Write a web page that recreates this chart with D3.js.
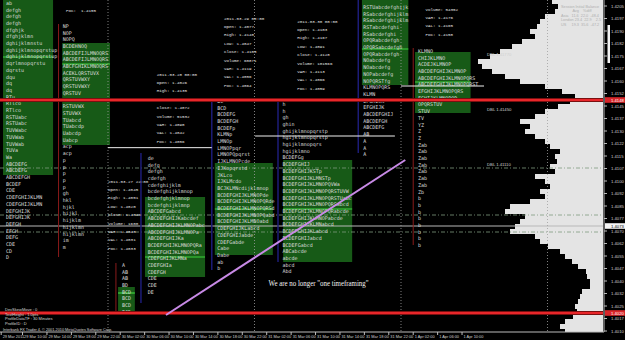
<!DOCTYPE html>
<html>
<head>
<meta charset="utf-8">
<script src="https://cdn.jsdelivr.net/npm/d3@7"></script>
<style>
  body { margin: 0; background: #000; }
  svg { display: block; }
</style>
</head>
<body>
<svg id="chart" width="625" height="340"></svg>
<script>
// ---- data (time = hours after 2011-03-30 00:00, price = EURUSD) ----
const priceTicks = d3.range(27).map(i => 1.4010 + i * 0.00075);
const timeTicks = d3.range(-14, 59, 4);
const firstBarHour = -17.5;
const daySeparators = [0, 24, 48, 72];

// volume profile, one value per 3 pips starting at 1.4010
const profileStart = 1.4010, profileStep = 0.0003;
const profileVolumes = [38,43,38,30,26,28,25,23,21,13, 13,16,17,25,31,38,43,55,63,68,
  93,88,83,78,98,93,73,58,63,53, 58,68,48,53,46,48,43,53,58,68,
  78,73,83,68,58,45,33,28,41,58, 83,98,111,121,125,113,103,91,81,68,
  73,66,63,58,48,45,51];

const valueAreas = [
  {t0: -17.2, t1: -9.0, hi: 1.42086, lo: 1.41036, poc: 1.41744},
  {t0: -7.5, t1: 0.33, hi: 1.41828, lo: 1.41216, poc: 1.41702},
  {t0: 6.06, t1: 15.9, hi: 1.40904, lo: 1.40424, poc: 1.40544},
  {t0: 17.5, t1: 27.0, hi: 1.41108, lo: 1.40556, poc: 1.40832},
  {t0: 28.7, t1: 40.0, hi: 1.41126, lo: 1.40514, poc: 1.40832},
  {t0: 41.6, t1: 49.2, hi: 1.42086, lo: 1.41576, poc: 1.41792},
  {t0: 50.3, t1: 59.4, hi: 1.41774, lo: 1.41408, poc: 1.41594},
  {t0: 1.65, t1: 4.4, hi: 1.40364, lo: 1.40208, poc: 1.40328}
];

const tpoStep = 0.000402;
const colA = ["ab","defgh","defgh","defgh","dfghjk","dfghjklmn","dghijklmnstu","dghijklmnopqrstup",
  "dghijklmnopqrstup","dqrlmnopqrstu","dqrstu","dqu","dq","dq","RTu","RTlco","RTlco","RSTUabc",
  "RSTUabc","TUVWabc","TUVWab","TUVWab","TUVa","Wa","ABCDEFG","ABCDEFG","ABCDEFGH","BCDEF","CDE",
  "CDEFGHIJKLMN","CDEFGHIJKLMN","DEFGHIJK","DEFGHIJK","DEFGH","EFGH","DEFG","CDE","CD","D"];
const colB = ["NP","NOP","NOPQ","BCDEHNOQ","ABCDEFIJLMNOQRS","ABCDEFIJLMNOQRS","ABCFGHIKLMNOQRS",
  "ACEKLQRSTUVX","QRSTUVWXY","QRSTUVWXY","QRSTUV","RSTUVWX","RSTUVWX","STUVWX","TUabcd","TUabcdp",
  "Uabcdp","Uabcp","acp","acp","p","p","p","p","p","gh","hkl","hjkl","hijkl","hijklm","hijklmn",
  "hijklmn","im","m"];
const colC = ["de","defg","defgh","cdefgh","cdefghijklm","bcdefghijklmnop","bcdefghjklmnop",
  "bcdefghijklmnp","ABCDEFGabcd","ABCDEFGHIJKabcdef","ABCDEFGHIJKLMNOPabc","ABCDEFGHIJKLMNOPa",
  "ABCDEFGHIJKa","BCDEFGHIJKLMNOPQRa","BCDEFGHIJKLMNOPQa","CDEFGHIJKLMNa","CDEFGHIa","CDEFGH",
  "CDE","CDE","DE"];
const colD = ["A","AB","AB","BD","BCD","BCD","BCD","BCD"];
const colE = ["BC","BCD","BCDEFG","BCDEFGH","BCDEFp","KLMNp","LMNOp","LMNOPpqr","LMNOPQpqrst",
  "IJKLMNOPcde","IJKopqrstd","JKLco","IJKLMcdo","BCJKLMNcdijklmnop","BCDEFGHIJKLMNOPde",
  "BCDEFGHIJKLMNOPQRde","BCDEFGHIJKLMNOPQRSd","BCDEFGHIJKLMNOPQabd","BCDEFGHIJKLMNOabd",
  "CDEFGHIJKLabcd","CDEFGHIJabde","CDEFGabde","Cabe","Dabe","ab","b"];
const colF = ["h","h","gh","ghin","ghijklmnopqrstp","hgijklmnopqrstp","hgijklmnopqrs","hgijklmno",
  "BCDEFGg","BCDEFGHIJ","BCDEFGHIJKSTp","BCDEFGHIJKLMNSTp","BCDEFGHIJKLMNOPQVWa",
  "BCDEFGHIJKLMNOPQRSTUVW","BCDEFGHIJKLMNOPQRSTUabc","BCDEFGHIJKLMNOPQRSabcd",
  "BCDEFGHIJKLMNOPQRabcde","BCDEFGHIJKLMNOPabcde","BCDEFGHIJKLMNabcd","BCDEFGHIJKLabcd",
  "BCDEFGHIJabcd","BCDEFGabcd","ABCabcde","abcde","abcd","Abd"];
const colG = ["RSTUabcdefghijk","RSabcdefghijklm","RSabcdefghijklm","RSTabcdefghi","RSabcdefghi",
  "OPQRabcdefgh","OPQRSabcdefgh","OPQRabcdefgh","NOabcdefg","NOabcdefg","NOPabcdefg","NOPQRSTfg",
  "KLMNOPQRS","KLMN","EFGHIJK","EFGHIJK","ABCDEFGHIJ","ABCDEFGH","ABCDEFG","AB","A","A","A"];
const colH = ["KLMNO","CHIJKLMNO","ACDEJKLMNOP","ABCDEFGHIJKLMNOP","ABCDEFGHIJKLMNOPQRS",
  "ABCDEFGHIJKLMNOPQRST","EFGHIJKLMNOPQRS","FGHIJKLMNOPQR","OPQRSTUV","STUV","TV","YZ","Z","Z",
  "Zab","Zab","Zab","Zab","Zab","Zab","Zab","Zb","b","b","b","b","b","b","b","b"];
const tpoColumns = [
  {t: -16.7, top: 1.42068, rows: colA},
  {t: -7.4, top: 1.4193, rows: colB},
  {t: 6.5, top: 1.41138, rows: colC},
  {t: 2.3, top: 1.40496, rows: colD},
  {t: 17.9, top: 1.4148, rows: colE},
  {t: 28.6, top: 1.41462, rows: colF},
  {t: 41.8, top: 1.42044, rows: colG},
  {t: 50.8, top: 1.4178, rows: colH}
];

const infoStep = 0.000504;
const infoBlocks = [
  {t: -6.9, top: 1.42026, lines: ["POC:  1.4155"]},
  {t: 8.0, top: 1.41642, lines: ["2011.03.28 00:00","Open: 1.4026","High: 1.4135","Low: 1.4024",
    "Close: 1.4072","Volume: 51532","VAH: 1.4090","VAL: 1.4042","POC: 1.4056"]},
  {t: 19.0, top: 1.41978, lines: ["2011.03.29 00:00","Open: 1.4077","High: 1.4148","Low: 1.4047",
    "Close: 1.4103","Volume: 60871","VAH: 1.4119","VAL: 1.4056","POC: 1.4064"]},
  {t: 31.0, top: 1.4196, lines: ["2011.03.30 00:00","Open: 1.4103","High: 1.4167","Low: 1.4091",
    "Close: 1.4128","Volume: 101566","VAH: 1.4113","VAL: 1.4066","POC: 1.4059"]},
  {t: 52.0, top: 1.42032, lines: ["Volume: 54352","VAH: 1.4176","VAL: 1.4165","POC: 1.4158"]},
  {t: 0.0, top: 1.4100, lines: ["2011.03.27 22:00","Open: 1.4045","High: 1.4051","Low: 1.4020",
    "Close: 1.4046","Volume: 1600","VAH: 1.4048","VAL: 1.4031","POC: 1.4033"]}
];

const navyLines = [
  {t: 5.4, hi: 1.41168, lo: 1.40268}, {t: 17.0, hi: 1.41480, lo: 1.40466},
  {t: 27.85, hi: 1.41480, lo: 1.40514}, {t: 41.0, hi: 1.42086, lo: 1.41168}
];
const rangeLines = [
  {t: -8.1, hi: 1.41942, lo: 1.40544}, {t: 1.3, hi: 1.40508, lo: 1.4022}, {t: 50.0, hi: 1.41798, lo: 1.40616}
];
const redLevels = [1.41486, 1.40208];
const dashLevels = [1.41078, 1.40796, 1.40694];
const bidPrice = 1.4073;
const prevLevels = [{t0: 48, t1: 61.6, p: 1.4157}, {t0: 24.1, t1: 47, p: 1.4127}, {t0: 0, t1: 17, p: 1.4120}];
const dblLabels = [{t: 62.1, p: 1.4176, text: "DBL 1.41770"}, {t: 62.1, p: 1.4143, text: "DBL 1.41450"},
  {t: 62.1, p: 1.4110, text: "DBL 1.41110"}];
const trendLine = [{t: 9.5, p: 1.40196}, {t: 48.7, p: 1.41126}];
const note = {t: 26.3, p: 1.40388, text: 'We are no longer "one timeframing"'};
const sessionRows = ["Session Initial Balance", "           Avg    %diff", "Asia   11.6  22.0  -48.4",
  "London 23.4  22.9    2.5", "US     19.3  35.6  -47.2"];
const settingsRows = ["DevSkewMove : 0", "TextHeight : 1.0pts", "ProfileDataTF : 30 Minutes", "ProfileID : D"];
const copyright = "Interbank FX Trader 4, \u00a9 2001-2010 MetaQuotes Software Corp.";

// ---- scales ----
const W = 625, H = 340, plotRight = 603, plotBottom = 332;
const BASE = new Date(2011, 2, 30, 0, 0);
const T = h => new Date(+BASE + h * 3600e3);
const x = d3.scaleTime().domain([T(0), T(24)]).range([108, 254.5]);
const y = d3.scaleLinear().domain([1.4010, 1.4205]).range([331, 6]);
const vol = d3.scaleLinear().domain([0, 125]).range([0, 125]);
const X = h => x(T(h));
const trunc4 = p => (Math.floor(p * 10000 + 1e-6) / 10000).toFixed(4);
const fmtTime = d3.timeFormat("%-d %b %H:%M");

const svg = d3.select('#chart');
svg.append('rect').attr('width', W).attr('height', H).attr('fill', '#000');
svg.append('defs').append('clipPath').attr('id', 'plotclip')
  .append('rect').attr('width', plotRight).attr('height', plotBottom);
const plot = svg.append('g').attr('clip-path', 'url(#plotclip)');

// volume profile
plot.append('g').selectAll('rect').data(profileVolumes).join('rect')
  .attr('x', d => plotRight - vol(d))
  .attr('width', d => vol(d))
  .attr('y', (d, i) => y(profileStart + (i + 0.5) * profileStep))
  .attr('height', (d, i) => y(profileStart + (i - 0.5) * profileStep) - y(profileStart + (i + 0.5) * profileStep) + 0.3)
  .attr('fill', '#e4e4e4')
  .attr('shape-rendering', 'crispEdges');

// value areas
plot.append('g').selectAll('rect').data(valueAreas).join('rect')
  .attr('x', d => X(d.t0)).attr('width', d => X(d.t1) - X(d.t0))
  .attr('y', d => y(d.hi)).attr('height', d => y(d.lo) - y(d.hi))
  .attr('fill', '#175a17');

// dash-dot levels and bid
plot.append('g').selectAll('line').data(dashLevels).join('line')
  .attr('x1', 0).attr('x2', plotRight).attr('y1', d => y(d)).attr('y2', d => y(d))
  .attr('stroke', '#7f9a7f').attr('stroke-width', 0.8).attr('stroke-dasharray', '4,2,1,2');
plot.append('line').attr('x1', 0).attr('x2', plotRight).attr('y1', y(bidPrice)).attr('y2', y(bidPrice))
  .attr('stroke', '#b8b8b8').attr('stroke-width', 1);

// day separators
plot.append('g').selectAll('line').data(daySeparators).join('line')
  .attr('x1', d => X(d)).attr('x2', d => X(d)).attr('y1', 0).attr('y2', plotBottom)
  .attr('stroke', '#a0a0a0').attr('stroke-width', 0.8).attr('stroke-dasharray', '1,2');

// vertical range lines
plot.append('g').selectAll('line').data(navyLines).join('line')
  .attr('x1', d => X(d.t)).attr('x2', d => X(d.t)).attr('y1', d => y(d.hi)).attr('y2', d => y(d.lo))
  .attr('stroke', '#1c1c78').attr('stroke-width', 1.5);
plot.append('g').selectAll('line').data(rangeLines).join('line')
  .attr('x1', d => X(d.t)).attr('x2', d => X(d.t)).attr('y1', d => y(d.hi)).attr('y2', d => y(d.lo))
  .attr('stroke', '#8a1a1a').attr('stroke-width', 1);

// previous-day level segments
plot.append('g').selectAll('line').data(prevLevels).join('line')
  .attr('x1', d => X(d.t0)).attr('x2', d => X(d.t1)).attr('y1', d => y(d.p)).attr('y2', d => y(d.p))
  .attr('stroke', '#f0f0f0').attr('stroke-width', 1);

// POC lines
plot.append('g').selectAll('line').data(valueAreas).join('line')
  .attr('x1', d => X(d.t0)).attr('x2', d => X(d.t1)).attr('y1', d => y(d.poc)).attr('y2', d => y(d.poc))
  .attr('stroke', '#3fd23f').attr('stroke-width', 1.2);

// TPO letters
const tpo = plot.append('g').attr('font-family', 'DejaVu Sans Mono, monospace')
  .attr('font-size', 5).attr('fill', '#dcdcdc');
tpoColumns.forEach(col => {
  tpo.append('g').selectAll('text').data(col.rows).join('text')
    .attr('x', X(col.t)).attr('y', (d, i) => y(col.top - i * tpoStep) + 1.8)
    .text(d => d);
});

// info blocks
const info = plot.append('g').attr('font-family', 'Liberation Mono, monospace')
  .attr('font-size', 4.2).attr('fill', '#e4e4e4');
infoBlocks.forEach(b => {
  info.append('g').selectAll('text').data(b.lines).join('text')
    .attr('x', X(b.t)).attr('y', (d, i) => y(b.top - i * infoStep) + 1.5)
    .attr('xml:space', 'preserve').text(d => d);
});

// DBL labels
plot.append('g').selectAll('text').data(dblLabels).join('text')
  .attr('x', d => X(d.t)).attr('y', d => y(d.p) + 1.5)
  .attr('font-family', 'Liberation Sans, sans-serif').attr('font-size', 4.2).attr('fill', '#d0d0d0')
  .text(d => d.text);

// red levels
const red = plot.append('g');
red.selectAll('line.glow').data(redLevels).join('line').attr('class', 'glow')
  .attr('x1', 0).attr('x2', plotRight).attr('y1', d => y(d)).attr('y2', d => y(d))
  .attr('stroke', '#7a1010').attr('stroke-width', 4);
red.selectAll('line.core').data(redLevels).join('line').attr('class', 'core')
  .attr('x1', 0).attr('x2', plotRight).attr('y1', d => y(d)).attr('y2', d => y(d))
  .attr('stroke', '#e8262a').attr('stroke-width', 2);

// trend line
plot.append('path').datum(trendLine)
  .attr('d', d3.line().x(d => X(d.t)).y(d => y(d.p)))
  .attr('stroke', '#c88ae6').attr('stroke-width', 2).attr('fill', 'none');

// note
plot.append('text').attr('x', X(note.t)).attr('y', y(note.p) + 2.5)
  .attr('font-family', 'Liberation Serif, serif').attr('font-size', 8).attr('fill', '#f2f2f2')
  .attr('textLength', 100).attr('lengthAdjust', 'spacingAndGlyphs')
  .text(note.text);

// session table (top right)
svg.append('g').selectAll('text').data(sessionRows).join('text')
  .attr('x', 561).attr('y', (d, i) => 7.5 + i * 4.6)
  .attr('font-family', 'Liberation Sans, sans-serif').attr('font-size', 3.8).attr('fill', '#b0b0b0')
  .attr('xml:space', 'preserve').text(d => d);

// settings text bottom-left
svg.append('g').selectAll('text').data(settingsRows).join('text')
  .attr('x', 5).attr('y', (d, i) => 311 + i * 4.6)
  .attr('font-family', 'Liberation Sans, sans-serif').attr('font-size', 4).attr('fill', '#d8d8d8')
  .text(d => d);
svg.append('text').attr('x', 3).attr('y', 330.5)
  .attr('font-family', 'Liberation Sans, sans-serif').attr('font-size', 3.8).attr('fill', '#d8d8d8')
  .text(copyright);

// ---- axes ----
svg.append('line').attr('x1', plotRight + 1).attr('x2', plotRight + 1).attr('y1', 0).attr('y2', plotBottom)
  .attr('stroke', '#bcbcbc').attr('stroke-width', 1);
svg.append('line').attr('x1', 0).attr('x2', plotRight + 1).attr('y1', plotBottom).attr('y2', plotBottom)
  .attr('stroke', '#bcbcbc').attr('stroke-width', 1);
svg.append('rect').attr('x', 607.5).attr('y', 25).attr('width', 2.5).attr('height', 38).attr('fill', '#f2f2f2');

const yAxis = svg.append('g');
yAxis.selectAll('line').data(priceTicks).join('line')
  .attr('x1', plotRight + 1).attr('x2', plotRight + 4).attr('y1', d => y(d)).attr('y2', d => y(d))
  .attr('stroke', '#bcbcbc');
yAxis.selectAll('text').data(priceTicks).join('text')
  .attr('x', 611).attr('y', d => y(d) + 1.5)
  .attr('font-family', 'Liberation Sans, sans-serif').attr('font-size', 4.2).attr('fill', '#d0d0d0')
  .text(trunc4);

// price tags for red levels and bid
const tags = [...redLevels.map(p => ({p, bg: '#d8262a', fg: '#fff'})), {p: bidPrice, bg: '#f4f4f4', fg: '#000'}];
const tagG = svg.append('g').selectAll('g').data(tags).join('g');
tagG.append('rect').attr('x', plotRight + 2).attr('y', d => y(d.p) - 2.8).attr('width', 20).attr('height', 5.6)
  .attr('fill', d => d.bg);
tagG.append('text').attr('x', 611).attr('y', d => y(d.p) + 1.5)
  .attr('font-family', 'Liberation Sans, sans-serif').attr('font-size', 4.2).attr('fill', d => d.fg)
  .text(d => trunc4(d.p));

const xAxis = svg.append('g');
const xTicks = [{h: firstBarHour, label: '29 Mar 2011'}, ...timeTicks.map(h => ({h, label: fmtTime(T(h))}))];
xAxis.selectAll('line').data(xTicks).join('line')
  .attr('x1', d => X(d.h)).attr('x2', d => X(d.h)).attr('y1', plotBottom).attr('y2', plotBottom + 3)
  .attr('stroke', '#bcbcbc');
xAxis.selectAll('text').data(xTicks).join('text')
  .attr('x', d => X(d.h) + 1.5).attr('y', 338)
  .attr('font-family', 'Liberation Sans, sans-serif').attr('font-size', 3.9).attr('fill', '#d0d0d0')
  .text(d => d.label);
</script>
</body>
</html>
